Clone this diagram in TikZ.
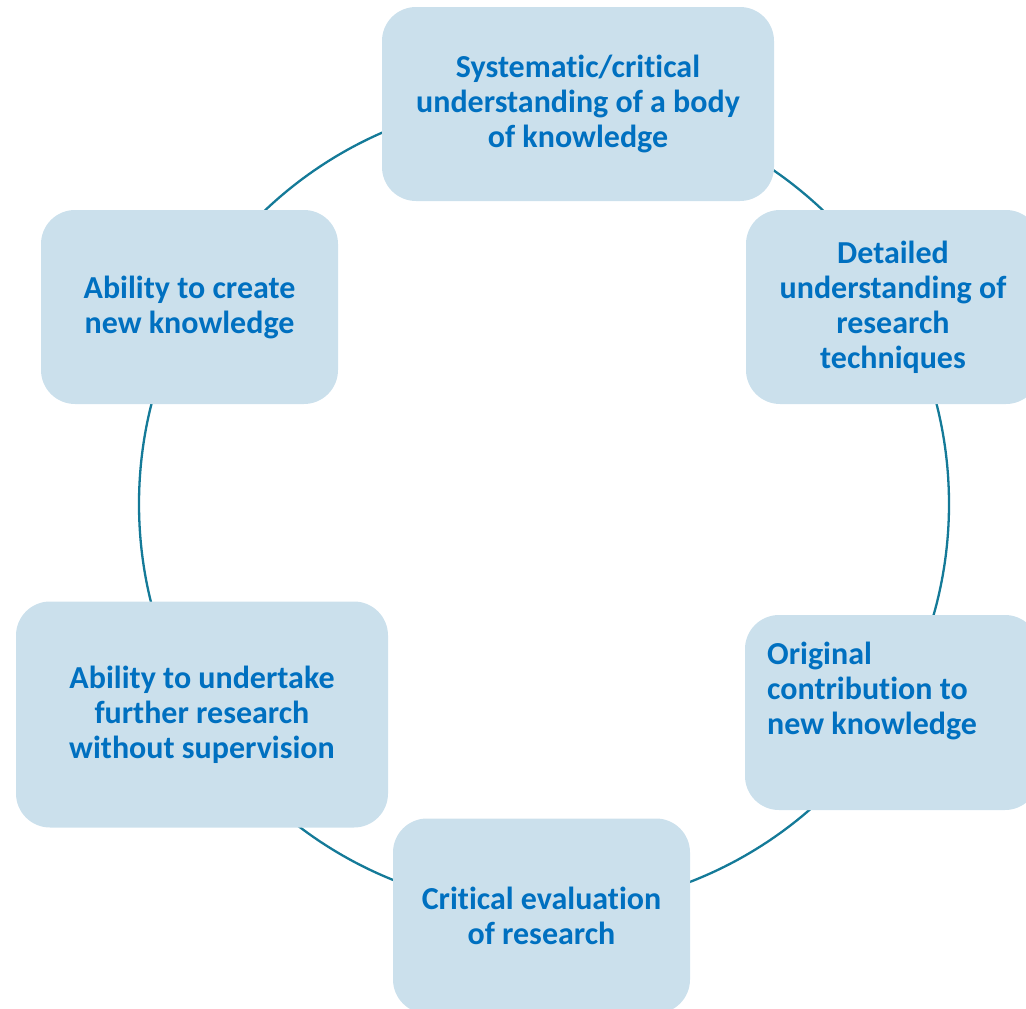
\documentclass[tikz,border=0pt]{standalone}
\usepackage{fontspec}
\setmainfont{Carlito}[Ligatures=NoCommon]
\definecolor{boxblue}{RGB}{203,224,236}
\definecolor{textblue}{RGB}{0,112,192}
\definecolor{ringteal}{RGB}{20,122,152}
\begin{document}
\begin{tikzpicture}[x=1pt, y=-1pt,
    box/.style={fill=boxblue, rounded corners=34pt, text=textblue, inner sep=0pt,
      align=center, font=\fontsize{32}{35}\selectfont\bfseries},
    note/.style={text=textblue, inner sep=0pt, align=left, anchor=north west,
      font=\fontsize{32}{35}\selectfont\bfseries},
    ring/.style={draw=ringteal, line width=2.3pt}]
    \useasboundingbox (0,0) rectangle (1026,1009);
    \clip (0,0) rectangle (1026,1009);
    \coordinate (hub) at (544,504);
    \draw[ring] (hub) circle (405);
    \node[box, minimum width=392pt, minimum height=194pt] (sys) at (578,104)
      {Systematic/critical\\understanding of a body\\of knowledge};
    \node[box, minimum width=294pt, minimum height=194pt] (det) at (893,307)
      {Detailed\\understanding of\\research\\techniques};
    \node[box, minimum width=294pt, minimum height=195pt] (orig) at (892,712.5) {};
    \node[note] (origtext) at (767,642) {Original\\contribution to\\new knowledge};
    \node[box, minimum width=297pt, minimum height=195pt] (crit) at (541.5,916)
      {Critical evaluation\\of research};
    \node[box, minimum width=372pt, minimum height=226pt] (undert) at (202,714.5)
      {Ability to undertake\\further research\\without supervision};
    \node[box, minimum width=297pt, minimum height=194pt] (create) at (189.5,307)
      {Ability to create\\new knowledge};
  \end{tikzpicture}
\end{document}
